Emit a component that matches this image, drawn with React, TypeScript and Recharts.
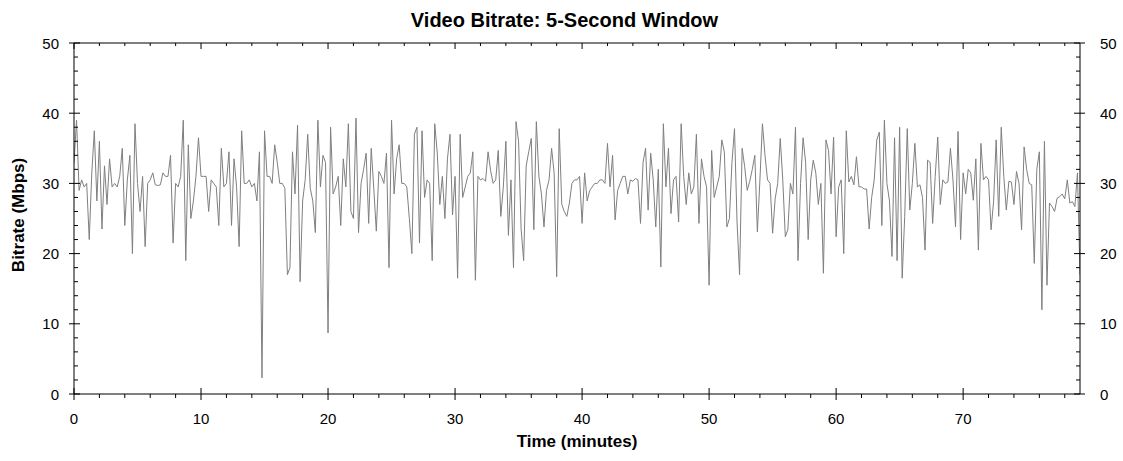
import { LineChart, Line, XAxis, YAxis } from 'recharts';

// 5-second window bitrate, every 0.2 min (Mbps)
const STEP_MIN = 0.2;

const bitrate00 = [
  33, 39, 29, 30.5, 29.5, 30, 22, 31.5, 37.5, 27.5,
  36, 23.5, 32.5, 27, 33.5, 29.5, 30, 29.5, 31, 35,
  24, 30.5, 34, 20, 38.5, 30, 26, 31, 21, 30,
  30.5, 31.5, 29.8, 29.7, 29.8, 31.5, 31, 31, 34, 21.5,
  30, 29.5, 31, 39, 19, 35.5, 25, 27.5, 31, 36.5,
];
const bitrate10 = [
  31, 31, 31, 26, 30.5, 30, 29.5, 24, 35, 29.5,
  30, 34.5, 24, 33.5, 29.5, 21, 37.5, 30, 30, 30.5,
  29.5, 30, 27.5, 34.5, 2.3, 37.5, 31, 31, 30, 35.5,
  33, 30, 30, 29.3, 17, 18, 34.5, 28.5, 38.3, 16,
  27.5, 30.5, 37, 29.3, 27.5, 23, 39, 29.5, 34, 33,
];
const bitrate20 = [
  8.7, 38, 28.5, 29.5, 31, 24, 33.5, 29.5, 38.5, 26,
  25, 39.3, 23, 30, 32, 34.3, 24.3, 35, 29.3, 23.2,
  31.7, 31, 30, 34.3, 18, 39, 28.5, 33.5, 35.5, 30,
  30, 29.5, 25, 20, 37, 38, 21.5, 37.5, 28, 30.5,
  30, 19, 38.5, 34.3, 27, 31, 25, 33.5, 37, 25.5,
];
const bitrate30 = [
  31, 16.5, 37, 28, 29.5, 31, 31.5, 34.5, 16.2, 31,
  30.5, 30.7, 30.3, 34.5, 31.8, 30, 30.5, 34.7, 25.3, 29.5,
  36, 22.6, 30.5, 18, 38.8, 36, 23.5, 19, 32.5, 34.5,
  36.4, 23.4, 38.8, 31, 28.5, 23.8, 29, 30.5, 35, 31.5,
  16.7, 37.8, 27, 26, 25.3, 27.2, 30, 30.5, 30.5, 31,
];
const bitrate40 = [
  24.3, 31.5, 27.5, 29, 29.5, 30, 30, 30.5, 30.5, 30,
  35.7, 29.5, 34, 24.8, 29, 30, 31, 31, 28.5, 30.5,
  30.3, 30.7, 30.5, 24.3, 33, 35, 26.2, 34.3, 30.5, 23.8,
  32, 18.1, 38.5, 29.5, 35, 25.7, 30.5, 31, 24.5, 38.5,
  31, 27, 31.5, 28.5, 29.5, 37, 24.3, 33.5, 31, 29.5,
];
const bitrate50 = [
  15.5, 34.7, 28, 29.5, 31, 36.2, 34.5, 23.8, 25, 33,
  37.8, 24.5, 17, 35, 32.4, 29, 30.3, 32, 34, 23.1,
  30.5, 38.5, 34, 30.5, 30, 22.9, 27.8, 30, 36.4, 30.5,
  22.4, 23.4, 30, 28.5, 38, 19, 30, 36.5, 33, 22,
  30.5, 33.3, 31.5, 27, 30, 17.2, 36.2, 34.7, 28.5, 36.6,
];
const bitrate60 = [
  22.4, 29.5, 30.5, 20, 37.5, 30.2, 31, 29.8, 33.8, 29.5,
  29.5, 29.2, 29.2, 23.5, 28, 30.5, 36.2, 37.3, 24, 39,
  30, 27.5, 19.6, 36.5, 19, 38, 16.5, 25.3, 37.8, 26.2,
  30, 35.7, 29.5, 29.8, 28, 20.5, 33.3, 33, 24.3, 31,
  36.6, 27, 30.5, 30, 30.2, 35, 30.5, 23.8, 37.4, 22,
];
const bitrate70 = [
  31.5, 28.5, 32, 31.5, 27.6, 33.5, 20.5, 35.7, 30.5, 31,
  30.5, 23.4, 27.5, 36.2, 25.3, 38, 31, 26.2, 30.3, 30.2,
  27, 31.7, 30, 23.4, 35.2, 32, 30, 29.8, 18.6, 32,
  34.5, 12, 36, 15.5, 27.2, 26.7, 26, 27.9, 28.1, 28.5,
  27.8, 30.5, 27.2, 27.4, 26.7, 31.5, 17,
];

const segments = [bitrate00, bitrate10, bitrate20, bitrate30, bitrate40, bitrate50, bitrate60, bitrate70];
const segmentStarts = [0, 10, 20, 30, 40, 50, 60, 70];

const xTicks = [0, 2, 4, 6, 8, 10, 12, 14, 16, 18, 20, 22, 24, 26, 28, 30, 32, 34, 36, 38, 40,
  42, 44, 46, 48, 50, 52, 54, 56, 58, 60, 62, 64, 66, 68, 70, 72, 74, 76, 78];
const yTicks = [0, 2, 4, 6, 8, 10, 12, 14, 16, 18, 20, 22, 24, 26, 28, 30, 32, 34, 36, 38, 40,
  42, 44, 46, 48, 50];

const data = segments.flatMap((seg, s) =>
  seg.map((v, i) => ({ t: Math.round((segmentStarts[s] + i * STEP_MIN) * 10) / 10, mbps: v })),
);

const FONT = '"Liberation Sans", Arial, sans-serif';

function BottomTick(props: any) {
  const { x, y, payload } = props;
  const major = payload.value % 10 === 0;
  return (
    <g>
      <line x1={x} x2={x} y1={major ? y - 6 : y} y2={major ? y + 6 : y + 4} stroke="#000" />
      {major && (
        <text x={x} y={y + 24} textAnchor="middle" dominantBaseline="central" fontSize={15} fontFamily={FONT} fill="#000">
          {payload.value}
        </text>
      )}
    </g>
  );
}

function TopTick(props: any) {
  const { x, y, payload } = props;
  const major = payload.value % 10 === 0;
  return <line x1={x} x2={x} y1={y} y2={major ? y + 6 : y + 3} stroke="#000" />;
}

function LeftTick(props: any) {
  const { x, y, payload } = props;
  const major = payload.value % 10 === 0;
  return (
    <g>
      <line x1={major ? x - 5 : x} x2={major ? x + 6 : x + 4} y1={y} y2={y} stroke="#000" />
      {major && (
        <text x={x - 15} y={y} textAnchor="end" dominantBaseline="central" fontSize={15} fontFamily={FONT} fill="#000">
          {payload.value}
        </text>
      )}
    </g>
  );
}

function RightTick(props: any) {
  const { x, y, payload } = props;
  const major = payload.value % 10 === 0;
  return (
    <g>
      <line x1={major ? x - 6 : x - 4} x2={major ? x + 5 : x} y1={y} y2={y} stroke="#000" />
      {major && (
        <text x={x + 20} y={y} textAnchor="start" dominantBaseline="central" fontSize={15} fontFamily={FONT} fill="#000">
          {payload.value}
        </text>
      )}
    </g>
  );
}

export default function App() {
  return (
    <div style={{ position: 'absolute', left: 0, top: 0, width: 1123, height: 461, background: '#fff', fontFamily: FONT }}>
      <div style={{ position: 'absolute', left: 3, top: 8, width: 1123, textAlign: 'center', fontSize: 20, fontWeight: 'bold', lineHeight: '24px' }}>
        Video Bitrate: 5-Second Window
      </div>
      <div style={{ position: 'absolute', left: 577, top: 442, transform: 'translate(-50%, -50%)', fontSize: 17, fontWeight: 'bold', whiteSpace: 'nowrap' }}>
        Time (minutes)
      </div>
      <div style={{ position: 'absolute', left: 19, top: 215, transform: 'translate(-50%, -50%) rotate(-90deg)', fontSize: 17, fontWeight: 'bold', whiteSpace: 'nowrap' }}>
        Bitrate (Mbps)
      </div>
      <LineChart width={1123} height={461} data={data} margin={{ top: 33, right: 3, bottom: 37, left: 34 }}>
        <XAxis
          dataKey="t"
          type="number"
          domain={[0, 79.2]}
          ticks={xTicks}
          interval={0}
          tickSize={0}
          tickMargin={0}
          tickLine={false}
          axisLine={{ stroke: '#000' }}
          tick={<BottomTick />}
          height={30}
          allowDataOverflow
        />
        <XAxis
          xAxisId="top"
          orientation="top"
          dataKey="t"
          type="number"
          domain={[0, 79.2]}
          ticks={xTicks}
          interval={0}
          tickSize={0}
          tickMargin={0}
          tickLine={false}
          axisLine={{ stroke: '#000' }}
          tick={<TopTick />}
          height={10}
          allowDataOverflow
        />
        <YAxis
          domain={[0, 50]}
          ticks={yTicks}
          interval={0}
          tickSize={0}
          tickMargin={0}
          tickLine={false}
          axisLine={{ stroke: '#000' }}
          tick={<LeftTick />}
          width={40}
          allowDataOverflow
        />
        <YAxis
          yAxisId="right"
          orientation="right"
          domain={[0, 50]}
          ticks={yTicks}
          interval={0}
          tickSize={0}
          tickMargin={0}
          tickLine={false}
          axisLine={{ stroke: '#000' }}
          tick={<RightTick />}
          width={40}
          allowDataOverflow
        />
        <Line
          type="linear"
          dataKey="mbps"
          stroke="#7f7f7f"
          strokeWidth={1}
          dot={false}
          activeDot={false}
          isAnimationActive={false}
        />
      </LineChart>
    </div>
  );
}
